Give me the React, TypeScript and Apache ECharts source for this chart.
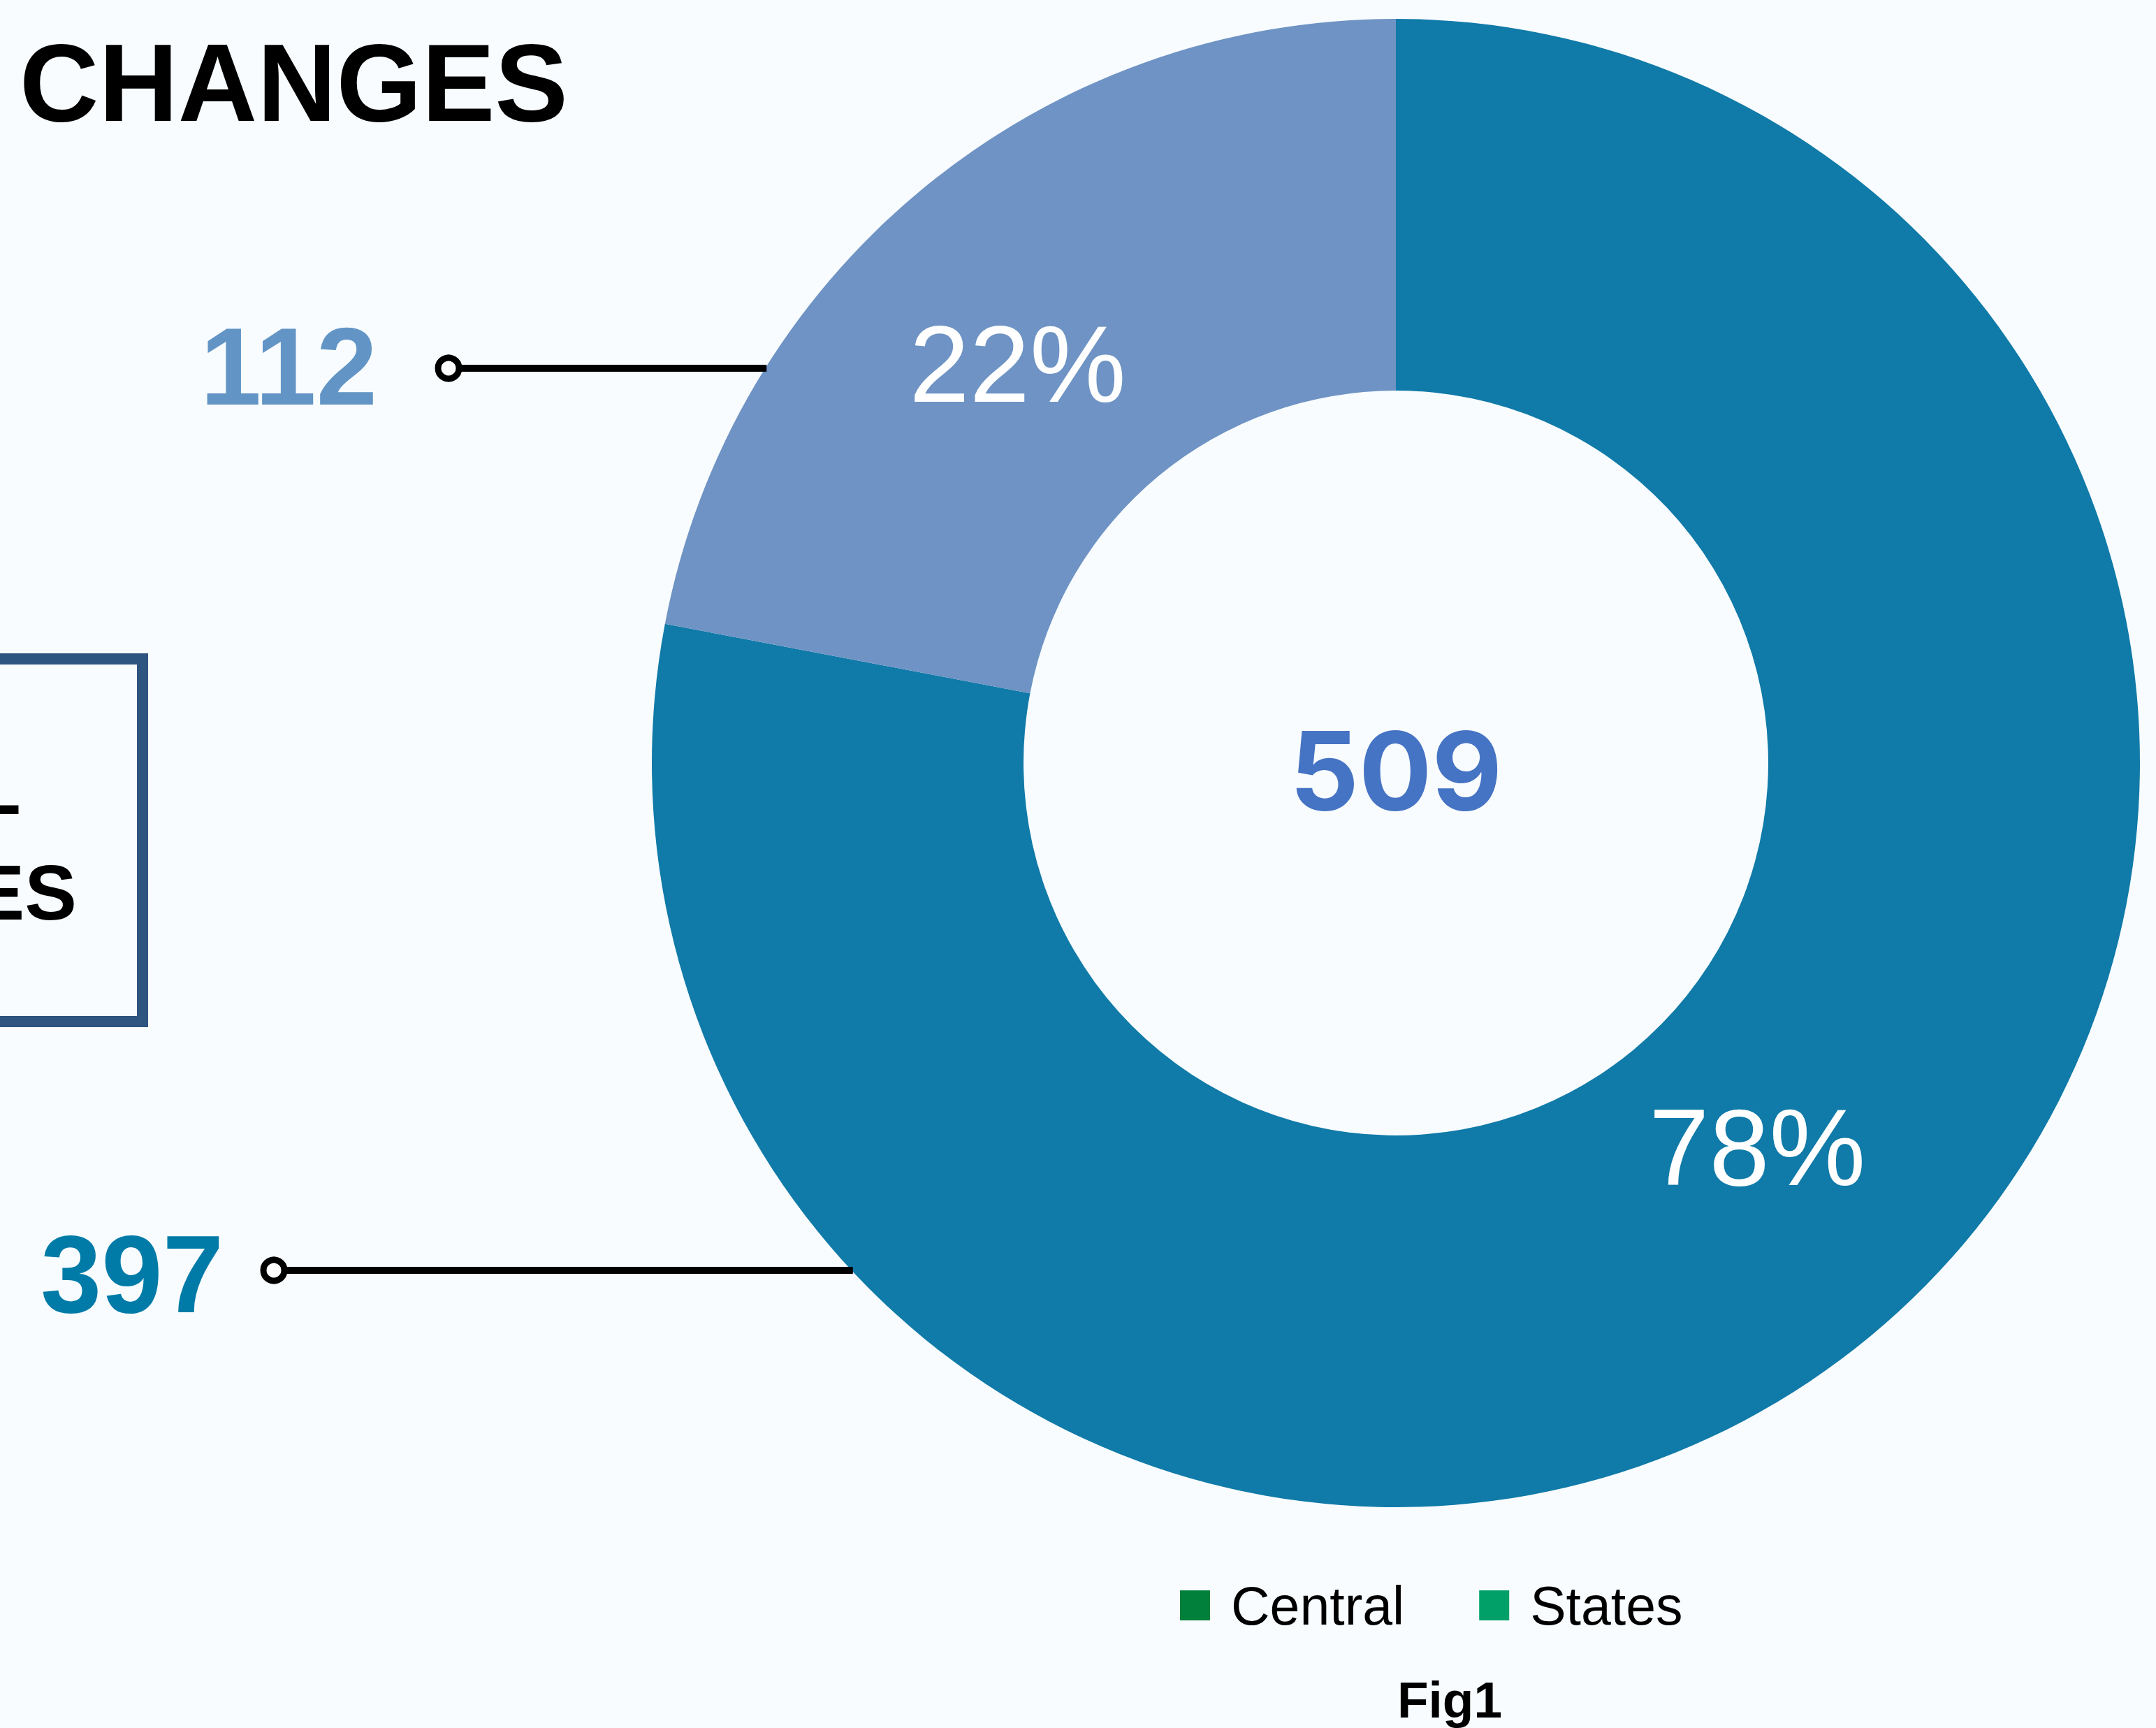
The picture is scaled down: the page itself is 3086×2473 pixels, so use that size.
import React, { useEffect, useRef } from "react";
import * as echarts from "echarts";

const categories = ["Central", "States"];
const values = [397, 112];
const sliceColors = ["#107AA8", "#6E93C4"];
const legendColors = ["#00803A", "#00A068"];
const numberColors = ["#007BA7", "#6295C5"];
const titleText = "CHANGES";
const boxLines = ["TOTAL", "CHANGES"];
const figLabel = "Fig1";

const W = 3086;
const H = 2473;
const CX = 1998;
const CY = 1092;
const R0 = 533;
const R1 = 1065;
const SANS = '"Liberation Sans", Arial, Helvetica, sans-serif';

function edgeX(y: number) {
  const dy = y - CY;
  return CX - Math.sqrt(R1 * R1 - dy * dy);
}

export default function App() {
  const ref = useRef<HTMLDivElement>(null);
  useEffect(() => {
    document.body.style.margin = "0";
    document.body.style.background = "#F8FCFF";
    const chart = echarts.init(ref.current!, null, { renderer: "svg" });
    const total = values.reduce((a, b) => a + b, 0);

    const leaders = [
      { y: 1818, cx: 392, tx: 320, ty: 1823 },
      { y: 527, cx: 642, tx: 540, ty: 524 },
    ];
    const leaderGraphics: any[] = [];
    leaders.forEach((l, i) => {
      leaderGraphics.push({
        type: "line",
        z: 5,
        shape: { x1: l.cx, y1: l.y, x2: edgeX(l.y) + 2, y2: l.y },
        style: { stroke: "#000", lineWidth: 10 },
      });
      leaderGraphics.push({
        type: "circle",
        z: 6,
        shape: { cx: l.cx, cy: l.y, r: 15 },
        style: { fill: "#fff", stroke: "#000", lineWidth: 9 },
      });
      leaderGraphics.push({
        type: "text",
        z: 6,
        x: l.tx,
        y: l.ty,
        style: {
          text: String(values[i]),
          fill: numberColors[i],
          font: `bold 157px ${SANS}`,
          align: "right",
          verticalAlign: "middle",
        },
      });
    });

    const labelOffsets = [
      [6, -67],
      [-30, 47],
    ];

    chart.setOption({
      animation: false,
      backgroundColor: "#F8FCFF",
      legend: {
        left: 1689,
        top: 2259,
        padding: 0,
        icon: "rect",
        itemWidth: 43,
        itemHeight: 43,
        itemGap: 107,
        selectedMode: false,
        textStyle: {
          fontSize: 77,
          fontFamily: SANS,
          color: "#000",
          padding: [0, 0, 0, 25],
        },
        data: categories.map((c, i) => ({
          name: c,
          itemStyle: { color: legendColors[i] },
        })),
      },
      series: [
        {
          type: "pie",
          center: [CX, CY],
          radius: [R0, R1],
          startAngle: 90,
          clockwise: true,
          percentPrecision: 0,
          silent: true,
          label: {
            show: true,
            position: "inside",
            formatter: "{d}%",
            color: "#fff",
            fontSize: 155,
            fontFamily: SANS,
          },
          labelLine: { show: false },
          data: categories.map((c, i) => ({
            name: c,
            value: values[i],
            itemStyle: { color: sliceColors[i] },
            label: { offset: labelOffsets[i] },
          })),
        },
      ],
      graphic: [
        {
          type: "text",
          x: 28,
          y: 118,
          style: {
            text: titleText,
            fill: "#000",
            font: `900 157px ${SANS}`,
            align: "left",
            verticalAlign: "middle",
          },
        },
        {
          type: "rect",
          shape: { x: -500, y: 943, width: 704, height: 519 },
          style: { fill: "none", stroke: "#2E5480", lineWidth: 16 },
        },
        {
          type: "text",
          x: 30,
          y: 1126,
          style: {
            text: boxLines[0],
            fill: "#000",
            font: `bold 112px ${SANS}`,
            align: "right",
            verticalAlign: "middle",
          },
        },
        {
          type: "text",
          x: 110,
          y: 1277,
          style: {
            text: boxLines[1],
            fill: "#000",
            font: `bold 112px ${SANS}`,
            align: "right",
            verticalAlign: "middle",
          },
        },
        ...leaderGraphics,
        {
          type: "text",
          z: 10,
          x: CX,
          y: 1102,
          style: {
            text: String(total),
            fill: "#4674C4",
            font: `bold 155px "Inter", ${SANS}`,
            align: "center",
            verticalAlign: "middle",
          },
        },
        {
          type: "text",
          x: 2075,
          y: 2432,
          style: {
            text: figLabel,
            fill: "#000",
            font: `bold 73px ${SANS}`,
            align: "center",
            verticalAlign: "middle",
          },
        },
      ],
    });
    return () => chart.dispose();
  }, []);
  return (
    <div
      ref={ref}
      style={{ position: "fixed", left: 0, top: 0, width: W, height: H }}
    />
  );
}
